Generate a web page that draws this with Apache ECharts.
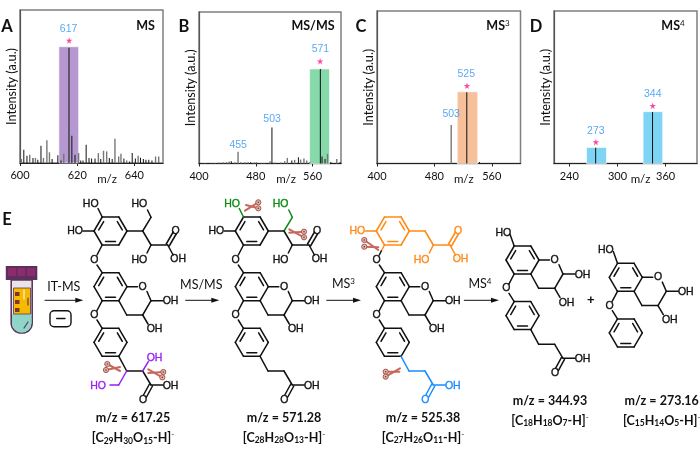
<!DOCTYPE html>
<html>
<head>
<meta charset="utf-8">
<style>html,body{margin:0;background:#fff}#chart{width:700px;height:456px}</style>
<script src="https://cdn.jsdelivr.net/npm/echarts@6/dist/echarts.min.js"></script>
</head>
<body>
<div id="chart"></div>
<script>
// spectra: [m/z, intensity %]
var darkPeaksA = [[601.4,8.7],[602.5,4.8],[604.6,3.3],[606.3,2.2],[607.4,11.3],[611.3,2.6],[613.3,5],[614.4,1.7],[617.2,75.4],[618.2,17.8],[619.3,5.4],[621.3,1.7],[622.1,1.7],[623.2,12],[624.2,3.3],[625.1,3],[626.3,3],[628.3,2.6],[631.3,3.3],[632.3,2.6],[636.4,3],[638.4,0.9],[639.3,6.5],[640.4,3],[642.2,3.5],[643.2,2.6],[644.1,2.2],[645.1,2.2],[646.2,1.7]];
var greyPeaksA = [[600.5,2.6],[603.4,5.4],[605.4,3.3],[608.2,3.3],[609.4,14.8],[610.3,7],[615.3,6.1],[620.5,6.5],[627.4,6.5],[629.2,8],[630.3,7.6],[633.2,15.9],[634.5,4.3],[635.3,6.1],[637.3,1.7],[641.3,4.8],[647.4,4.3],[648.5,4.3]];
var darkPeaksB = [[445.8,1.5],[503,23.7],[540.3,4.2],[571.2,62.4],[573.6,4.6],[577.8,2.9],[586,1],[599,1],[473,0.9],[531,2]];
var greyPeaksB = [[408.4,0.4],[417.8,0.4],[422.5,0.4],[428,0.7],[434.1,0.9],[438.8,0.9],[442.6,1.3],[450.5,0.9],[455,7.7],[458.9,0.9],[464.6,0.9],[469.2,0.9],[477.7,0.7],[480.9,0.9],[487.9,0.4],[491.7,0.4],[500.1,1.5],[506.7,0.7],[515.1,0.7],[520.7,1.5],[524.4,3.7],[534.7,2.4],[543.1,2.6],[547.8,3.3],[551.6,2],[555.8,1],[581,6.4],[594,3]];
var darkPeaksC = [[525.4,46.7],[543,1]];
var greyPeaksC = [[503.4,25.3]];
var darkPeaksD = [[273.1,10.3],[343.9,33.8]];
var greyPeaksD = [];

// highlight bands: [from, to, height]
var bandsA = [[613.6,620.5,76]];
var bandsB = [[555.8,583.8,62.4]];
var bandsC = [[511.8,540.4,47]];
var bandsD = [[261.5,286.3,10.5],[331.9,356.3,34]];
var starsA = [[617.2,80]];
var starsB = [[570.6,67.5]];
var starsC = [[525.4,51]];
var starsD = [[273.1,14],[343.9,37.8]];
var labelsA = [[617,87.6,'617']];
var labelsB = [[571,75.2,'571'],[503,29.2,'503'],[455.2,12,'455']];
var labelsC = [[524.4,58.7,'525'],[503.4,32.3,'503']];
var labelsD = [[273.1,21.2,'273'],[343.9,45.2,'344']];

var ticksA = [600,620,640];
var ticksB = [400,480,560];
var ticksC = [400,480,560];
var ticksD = [240,300,360];

var panelLetters = ['A','B','C','D'];
var panelTitles = ['{t|MS}','{t|MS/MS}','{t|MS}{s|3}','{t|MS}{s|4}'];

var sans = '"Liberation Sans", Arial, sans-serif';
var cal = 'Lato, "Open Sans", sans-serif';
var blue = '#2f93f2', pink = '#ff1a8c';
var star = 'path://M50 0 L62 36 L100 36 L69 59 L81 96 L50 73 L19 96 L31 59 L0 36 L38 36 Z';

var panels = [
  {box:[20,10,143,153], xr:[600,650], ticks:ticksA, dark:darkPeaksA, grey:greyPeaksA, bands:bandsA, color:'#b598d0', stars:starsA, labels:labelsA, pad:31, letter:[7,27], title:[145.5,26]},
  {box:[199,12,142,151.5], xr:[400,600], ticks:ticksB, dark:darkPeaksB, grey:greyPeaksB, bands:bandsB, color:'#86d9a9', stars:starsB, labels:labelsB, pad:32, letter:[184,27], title:[313,26]},
  {box:[377,11,143.5,152.5], xr:[400,600], ticks:ticksC, dark:darkPeaksC, grey:greyPeaksC, bands:bandsC, color:'#f6c09a', stars:starsC, labels:labelsC, pad:30, letter:[361,27], title:[498,26]},
  {box:[554,11,143,152.5], xr:[221,399], ticks:ticksD, dark:darkPeaksD, grey:greyPeaksD, bands:bandsD, color:'#7dd4f5', stars:starsD, labels:labelsD, pad:30, letter:[536,27], title:[673,26]}
];

var grids = [], xAxes = [], yAxes = [], series = [], g = [];

panels.forEach(function (p, i) {
  grids.push({left:p.box[0], top:p.box[1], width:p.box[2], height:p.box[3], show:true, borderColor:'#7f7f7f', borderWidth:1.5, backgroundColor:'transparent'});
  xAxes.push({
    type:'value', gridIndex:i, min:p.xr[0], max:p.xr[1], splitLine:{show:false},
    axisLine:{lineStyle:{color:'#222',width:1.2}},
    axisTick:{length:3, lineStyle:{color:'#222'}, customValues:p.ticks},
    axisLabel:{customValues:p.ticks, margin:7, color:'#111', fontFamily:cal, fontSize:11},
    name:'m/z', nameLocation:'middle', nameGap:10, nameMoveOverlap:false,
    nameTextStyle:{color:'#111', fontFamily:cal, fontSize:11.5, padding:[0,0,0,p.pad]}
  });
  yAxes.push({
    type:'value', gridIndex:i, min:0, max:100, splitLine:{show:false},
    axisLine:{show:true, lineStyle:{color:'#555',width:1.2}}, axisTick:{show:false}, axisLabel:{show:false},
    name:'Intensity (a.u.)', nameLocation:'middle', nameGap:2, nameMoveOverlap:false,
    nameTextStyle:{color:'#111', fontFamily:cal, fontSize:12.6}
  });
  series.push({
    type:'bar', name:'peaks', xAxisIndex:i, yAxisIndex:i, data:p.dark, barWidth:1, barGap:'-100%', z:3,
    itemStyle:{color:'#111'},
    markArea:{silent:true, itemStyle:{color:p.color, borderColor:'rgba(255,255,255,0.6)', borderWidth:1},
      data:p.bands.map(function (b) { return [{xAxis:b[0],yAxis:0},{xAxis:b[1],yAxis:b[2]}]; })}
  });
  series.push({type:'bar', name:'minor', xAxisIndex:i, yAxisIndex:i, data:p.grey, barWidth:1.4, barGap:'-100%', z:3, itemStyle:{color:'#777'}});
  series.push({type:'scatter', xAxisIndex:i, yAxisIndex:i, data:p.stars, symbol:star, symbolSize:6.5, z:4, itemStyle:{color:pink}});
  series.push({
    type:'scatter', xAxisIndex:i, yAxisIndex:i, data:p.labels, symbolSize:0, z:4,
    label:{show:true, position:'inside', color:blue, fontFamily:sans, fontSize:10.5,
      formatter:function (d) { return d.value[2]; }}
  });
  g.push(txt(p.letter[0], p.letter[1], panelLetters[i], '#111', 'bold 16.5px ' + cal));
  g.push({type:'text', x:p.title[0], y:p.title[1], silent:true, style:{text:panelTitles[i], align:'center', verticalAlign:'middle',
    rich:{t:{font:'bold 12.5px ' + cal, fill:'#111'}, s:{font:'8px ' + cal, fill:'#111', verticalAlign:'top', padding:[0,0,5,0]}}}});
});

// ---- schematic drawing helpers (reaction scheme under the spectra) ----
function txt(x, y, s, color, font) {
  return {type:'text', x:x, y:y, silent:true, style:{text:s, fill:color, font:font, align:'center', verticalAlign:'middle'}};
}
function bond(x1, y1, x2, y2, c, w) {
  g.push({type:'line', silent:true, shape:{x1:x1,y1:y1,x2:x2,y2:y2}, style:{stroke:c||'#111', lineWidth:w||1.5, lineCap:'round'}});
}
function atom(x, y, s, c) {
  var t = txt(x, y, s, c || '#111', '10.5px ' + sans);
  t.style.stroke = c || '#111';
  t.style.lineWidth = 0.35;
  g.push(t);
}
function chain(pts, dx, dy, c) {
  for (var i = 0; i < pts.length - 1; i++) bond(pts[i][0]+dx, pts[i][1]+dy, pts[i+1][0]+dx, pts[i+1][1]+dy, c);
}
function ring(cx, cy, c) {
  var v = [[cx-8.3,cy-14],[cx+8.3,cy-14],[cx+16.5,cy],[cx+8.3,cy+14],[cx-8.3,cy+14],[cx-16.5,cy]];
  for (var i = 0; i < 6; i++) { var n = v[(i+1)%6]; bond(v[i][0],v[i][1],n[0],n[1],c); }
  [[5,0],[1,2],[3,4]].forEach(function (e) {
    var a = v[e[0]], b = v[e[1]];
    var ax = a[0]+(cx-a[0])*0.25, ay = a[1]+(cy-a[1])*0.25, bx = b[0]+(cx-b[0])*0.25, by = b[1]+(cy-b[1])*0.25;
    var sx = (bx-ax)*0.1, sy = (by-ay)*0.1;
    bond(ax+sx, ay+sy, bx-sx, by-sy, c);
  });
}
function dbl(x1, y1, x2, y2, c) {
  bond(x1-1.5,y1-1,x2-1.5,y2-1,c); bond(x1+1.5,y1+1,x2+1.5,y2+1,c);
}
// chroman core with the lower phenoxy ring
function core(dx, dy) {
  ring(110.5+dx, 286.7+dy);
  chain([[127,286.7],[137.5,286.7]], dx, dy);
  atom(142.7+dx, 287+dy, 'O');
  chain([[147,291.5],[151,300.7],[142.7,315],[126.7,315],[118.8,300.7]], dx, dy);
  chain([[151,300.7],[163,300.7]], dx, dy);
  atom(170.5+dx, 301.5+dy, 'OH');
  chain([[142.7,315],[148,324]], dx, dy);
  atom(154.5+dx, 329.5+dy, 'OH');
  chain([[102.2,300.7],[97,310.5]], dx, dy);
  atom(94.3+dx, 315.3+dy, 'O');
  chain([[97,320],[102.2,328.3]], dx, dy);
  ring(110.5+dx, 342.3+dy);
}
// carboxyl group ending at (x,y)
function acid(x, y, dx, dy, c, toUp) {
  if (toUp) {
    dbl(x+dx, y+dy, x+7+dx, y-12+dy, c);
    atom(x+8+dx, y-14+dy, 'O', c);
    bond(x+dx, y+dy, x+5.5+dx, y+10+dy, c);
    atom(x+10.5+dx, y+14.5+dy, 'OH', c);
  } else {
    dbl(x+dx, y+dy, x-6+dx, y+11+dy, c);
    atom(x-8+dx, y+15+dy, 'O', c);
    bond(x+dx, y+dy, x+12+dx, y+dy, c);
    atom(x+19.5+dx, y+.8+dy, 'OH', c);
  }
}
function arrow(x1, x2, y) {
  bond(x1, y, x2-4, y, '#111', 1);
  g.push({type:'polygon', silent:true, shape:{points:[[x2,y],[x2-8,y-2.5],[x2-8,y+2.5]]}, style:{fill:'#111'}});
}
function scissors(c1x, c1y, c2x, c2y, e1x, e1y, e2x, e2y) {
  bond(c1x, c1y, e2x, e2y, '#c8675c', 2);
  bond(c2x, c2y, e1x, e1y, '#c8675c', 2);
  [[c1x,c1y],[c2x,c2y]].forEach(function (p) {
    g.push({type:'circle', silent:true, shape:{cx:p[0],cy:p[1],r:2.6}, style:{fill:'#e8b4a8', stroke:'#a8584e', lineWidth:1}});
    g.push({type:'circle', silent:true, shape:{cx:p[0],cy:p[1],r:0.8}, style:{fill:'#444'}});
  });
}
function formula(x, y, s) {
  g.push({type:'text', x:x, y:y, silent:true, style:{text:s, align:'center', verticalAlign:'middle', rich:{
    b:{font:'bold 12.5px ' + cal, fill:'#111'},
    d:{font:'bold 8.5px ' + cal, fill:'#111', verticalAlign:'bottom', padding:[6,0,0,0]},
    u:{font:'8px ' + cal, fill:'#111', verticalAlign:'top', padding:[0,0,6,0]},
    c:{font:'12.5px ' + cal, fill:'#111'},
    e:{font:'8px ' + cal, fill:'#111', verticalAlign:'top', padding:[0,0,5,0]}
  }}});
}

// structure 1: m/z 617
var purple = '#9a1ef0', green = '#0a8a12', orange = '#ff8a14', azure = '#1a8cff';
ring(110.5, 231);
chain([[102.2,217],[98,208.5]], 0, 0); atom(90.7,203.7,'HO');
chain([[94,231],[83,231]], 0, 0); atom(75,231.3,'HO');
chain([[127,231],[142.7,231],[151,217.3],[147.5,210]], 0, 0); atom(139.3,203.7,'HO');
chain([[142.7,231],[151,245],[167.7,245]], 0, 0);
chain([[151,245],[147,253]], 0, 0); atom(139.3,259.7,'HO');
acid(167.7,245,0,0,'#111',true);
chain([[102.2,245],[97,255]], 0, 0); atom(94.3,260,'O'); chain([[97,265],[102.2,272.7]], 0, 0);
core(0,0);
chain([[118.8,356.3],[126.7,371]], 0, 0);
chain([[126.7,371],[142.7,371],[151,385]], 0, 0);
chain([[126.7,371],[118.7,385],[110,385]], 0, 0, purple); atom(98,386,'HO',purple);
chain([[142.7,371],[148.3,361.7]], 0, 0, purple); atom(154.5,358,'OH',purple);
acid(151,385,0,0,'#111',false);
scissors(107.3,364,106,370,120,367,120,371);
scissors(163.3,372,162.3,377.3,148.3,369.3,148.3,373);
formula(133,418,'{b|m/z = 617.25}');
formula(133,438,'{b|[C}{d|29}{b|H}{d|30}{b|O}{d|15}{b|-H]}{u|-}');

// structure 2: m/z 571
var d2 = 141.3;
ring(110.5+d2, 231);
chain([[102.2,217],[98,208.5]], d2, 0, green); atom(90.7+d2,203.7,'HO',green);
chain([[94,231],[83,231]], d2, 0); atom(75+d2,231.3,'HO');
chain([[127,231],[142.7,231]], d2, 0);
chain([[142.7,231],[151,217.3],[147.5,210]], d2, 0, green); atom(139.3+d2,203.7,'HO',green);
chain([[142.7,231],[151,245],[167.7,245]], d2, 0);
chain([[151,245],[147,253]], d2, 0); atom(139.3+d2,259.7,'HO');
acid(167.7,245,d2,0,'#111',true);
chain([[102.2,245],[97,255]], d2, 0); atom(94.3+d2,260,'O'); chain([[97,265],[102.2,272.7]], d2, 0);
core(d2,0);
chain([[118.8,356.3],[126.7,371],[142.7,371],[151,385]], d2, 0);
acid(151,385,d2,0,'#111',false);
scissors(258.3,202.3,258.3,208.3,246,205,245,210.7);
scissors(304,231.7,304,237.3,289.3,229.3,289.3,232.7);
formula(284,417.5,'{b|m/z = 571.28}');
formula(284,437.5,'{b|[C}{d|28}{b|H}{d|28}{b|O}{d|13}{b|-H]}{u|-}');

// structure 3: m/z 525
var d3 = 282.3;
ring(110.5+d3, 231, orange);
chain([[94,231],[83,231]], d3, 0, orange); atom(75+d3,231.3,'HO',orange);
chain([[127,231],[142.7,231],[151,245],[167.7,245]], d3, 0, orange);
chain([[151,245],[147,253]], d3, 0, orange); atom(139.3+d3,259.7,'HO',orange);
acid(167.7,245,d3,0,orange,true);
chain([[102.2,245],[99,251]], d3, 0, orange); chain([[99,251],[97,255]], d3, 0);
atom(94.3+d3,260,'O'); chain([[97,265],[102.2,272.7]], d3, 0);
core(d3,0);
chain([[118.8,356.3],[126.7,371],[142.7,371],[151,385]], d3, 0, azure);
acid(151,385,d3,0,azure,false);
scissors(364.3,240,364.3,246.7,378.3,247.3,378.3,250);
scissors(385.7,371.7,385.7,376.7,400,368.3,399.3,371.7);
formula(423,417.5,'{b|m/z = 525.38}');
formula(423,437.5,'{b|[C}{d|27}{b|H}{d|26}{b|O}{d|11}{b|-H]}{u|-}');

// structure 4: m/z 344
var d4x = 412, d4y = -26.7;
chain([[102.2,272.7],[98,261]], d4x, d4y); atom(91.3+d4x,259.4+d4y,'HO');
core(d4x,d4y);
chain([[118.8,356.3],[126.7,371],[142.7,371],[151,385]], d4x, d4y);
acid(151,385,d4x,d4y,'#111',false);
formula(550,400.7,'{b|m/z = 344.93}');
formula(550,420.7,'{b|[C}{d|18}{b|H}{d|18}{b|O}{d|7}{b|-H]}{u|-}');

// structure 5: m/z 273
var d5x = 515.3, d5y = -9.4;
chain([[102.2,272.7],[98,261]], d5x, d5y); atom(90.5+d5x,259.8+d5y,'HO');
core(d5x,d5y);
formula(661.7,400.7,'{b|m/z = 273.16}');
formula(661.7,420.7,'{b|[C}{d|15}{b|H}{d|14}{b|O}{d|5}{b|-H]}{u|-}');

// arrows and step labels
arrow(45,83.3,300.3);
arrow(185.7,219.3,300.3);
arrow(326.7,361,300.3);
arrow(464.3,499,300.3);
g.push(txt(63.7,287.3,'IT-MS','#111','12.5px ' + cal));
g.push(txt(201.3,285,'MS/MS','#111','12.5px ' + cal));
formula(343.5,284,'{c|MS}{e|3}');
formula(480,284,'{c|MS}{e|4}');
g.push(txt(590.7,300,'+','#111','bold 13px ' + sans));
g.push(txt(7,220,'E','#111','bold 16.5px ' + cal));
g.push({type:'rect', silent:true, shape:{x:50,y:310.7,width:21,height:16,r:4}, style:{fill:'#fff',stroke:'#111',lineWidth:1.4}});
bond(56.7,318.5,65,318.5,'#111',1.4);

// sample tube
g.push({type:'rect', silent:true, shape:{x:11.2,y:280,width:21,height:53,r:[0,0,10,10]}, style:{fill:'#e8e4e8',stroke:'#5a3a5c',lineWidth:1.6}});
g.push({type:'rect', silent:true, shape:{x:12,y:314,width:19.5,height:18.5,r:[0,0,9.5,9.5]}, style:{fill:'#8fd6c9'}});
g.push({type:'rect', silent:true, shape:{x:13.5,y:288,width:17,height:26}, style:{fill:'#f7b900',stroke:'#5a3a5c',lineWidth:0.8}});
[294,302,310].forEach(function (y) {
  g.push({type:'rect', silent:true, shape:{x:15,y:y-2,width:4.5,height:4}, style:{fill:'#7a3530'}});
});
bond(28,298,28,305,'#5a3a5c',1.2);
bond(24,290,24,299,'#fff',1);
bond(28,322,24,328,'#5a3a5c',1.2);
g.push({type:'rect', silent:true, shape:{x:5.8,y:266,width:31.5,height:14}, style:{fill:'#5c2f5e'}});
[8,17.3,27].forEach(function (x) {
  g.push({type:'rect', silent:true, shape:{x:x,y:268,width:8,height:8}, style:{fill:'#8c2c6c'}});
});

var chart = echarts.init(document.getElementById('chart'));
chart.setOption({
  animation:false,
  backgroundColor:'#fff',
  grid:grids, xAxis:xAxes, yAxis:yAxes, series:series,
  graphic:{elements:g}
});
</script>
</body>
</html>
